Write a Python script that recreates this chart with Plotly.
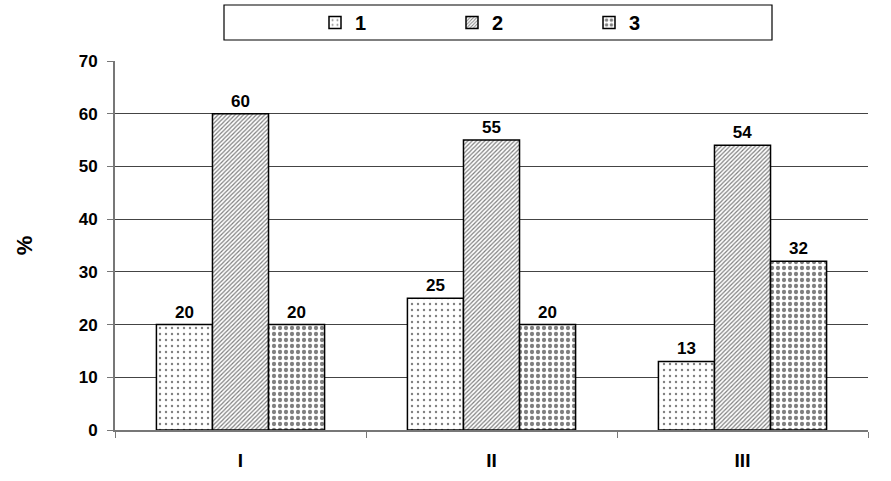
import plotly.graph_objects as go

categories = ["I", "II", "III"]
series_names = ["1", "2", "3"]
s1 = [20, 25, 13]
s2 = [60, 55, 54]
s3 = [20, 20, 32]
y_ticks = [0, 10, 20, 30, 40, 50, 60, 70]

FONT = "Liberation Sans, Arial, sans-serif"
W, H = 891, 481
L, R, T, B = 115, 23, 61, 51
PW = W - L - R
PH = H - T - B

patterns = [
    dict(shape=".", size=6, solidity=0.12, fgcolor="#000", bgcolor="#fff"),
    dict(shape="/", size=3, solidity=0.4, fgcolor="#000", bgcolor="#fff"),
    dict(shape=".", size=6, solidity=0.4, fgcolor="#000", bgcolor="#fff"),
]

fig = go.Figure()
for name, vals, pat in zip(series_names, [s1, s2, s3], patterns):
    fig.add_trace(go.Bar(
        x=categories, y=vals, name=name,
        marker=dict(color="#fff", pattern=pat, line=dict(color="#000", width=1.5)),
        text=[str(v) for v in vals], textposition="outside", cliponaxis=False,
        textfont=dict(family=FONT, size=17, color="#000", weight="bold"),
    ))

def px_x(p):
    return (p - L) / PW

def px_y(p):
    return (H - B - p) / PH

# legend frame
fig.add_shape(type="rect", xref="paper", yref="paper",
              x0=px_x(224), x1=px_x(772), y0=px_y(40), y1=px_y(5),
              line=dict(color="#000", width=1.2), fillcolor="rgba(0,0,0,0)", layer="above")

fig.update_layout(
    width=W, height=H,
    margin=dict(l=L, r=R, t=T, b=B, autoexpand=False),
    paper_bgcolor="#fff", plot_bgcolor="#fff",
    barmode="group", bargap=0.33, bargroupgap=0,
    font=dict(family=FONT, size=17, color="#000", weight="bold"),
    showlegend=True,
    legend=dict(
        orientation="h", x=px_x(315), xanchor="left", y=px_y(22.5), yanchor="middle",
        borderwidth=0, bgcolor="rgba(0,0,0,0)",
        entrywidth=92, entrywidthmode="pixels",
        font=dict(family=FONT, size=20, color="#000", weight="bold"),
    ),
    yaxis=dict(
        range=[0, 70], tickvals=y_ticks, showgrid=True, gridcolor="#444", gridwidth=1,
        showline=True, linecolor="#777", linewidth=2, ticks="outside", ticklen=6,
        tickcolor="#777", zeroline=False, ticklabelstandoff=6,
        title=dict(text="%", font=dict(family=FONT, size=22, weight="bold"), standoff=40),
        tickfont=dict(family=FONT, size=17, weight="bold"),
    ),
    xaxis=dict(
        showline=True, linecolor="#777", linewidth=2, ticks="outside", ticklen=6,
        tickcolor="#777", tickson="boundaries", ticklabelstandoff=12,
        tickfont=dict(family=FONT, size=19, weight="bold"),
    ),
)

fig.write_html("out.html", config={"displayModeBar": False},
               post_script="document.body.style.margin='0';document.body.style.overflow='hidden';")
